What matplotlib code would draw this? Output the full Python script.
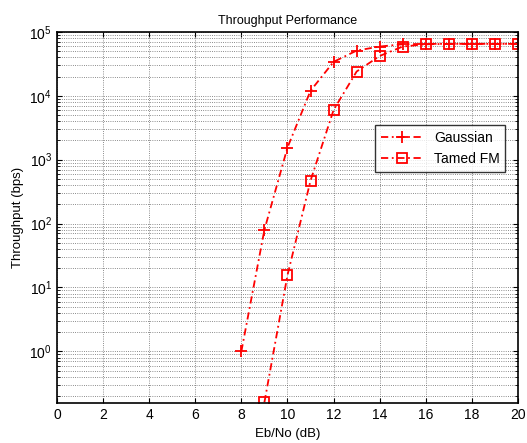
import matplotlib.pyplot as plt

# 数据
ebno = [8, 9, 10, 11, 12, 13, 14, 15, 16, 17, 18, 19, 20]
gaussian = [1.0, 80, 1550, 12000, 34000, 51000, 59000, 64000, 65000, 65000, 65000, 65000, 65000]
ebno_tfm = [9, 10, 11, 12, 13, 14, 15, 16, 17, 18, 19, 20]
tamed_fm = [0.16, 15.6, 470, 6000, 24000, 42000, 59000, 64000, 65000, 65000, 65000, 65000]
xticks = list(range(0, 21, 2))

plt.rcParams['font.family'] = ['Liberation Sans', 'DejaVu Sans']
plt.rcParams['font.size'] = 10

fig = plt.figure(figsize=(5.27, 4.43), dpi=100)
ax = fig.add_axes([0.108, 0.090, 0.875, 0.838])

dash = (4, 2, 1, 2)
ax.semilogy(ebno, gaussian, color='red', linestyle=(0, dash), linewidth=1.3,
            marker='+', markersize=8, markeredgewidth=1.3, label='Gaussian')
ax.semilogy(ebno_tfm, tamed_fm, color='red', linestyle=(0, dash), linewidth=1.3,
            marker='s', markersize=6.5, markerfacecolor='none', markeredgewidth=1.3,
            label='Tamed FM')

ax.set_xlim(0, 20)
ax.set_ylim(0.155, 1e5)
ax.set_xticks(xticks)

ax.grid(True, which='major', linestyle=':', color='#666666', linewidth=0.6)
ax.grid(True, which='minor', linestyle=':', color='#666666', linewidth=0.6)
ax.tick_params(which='both', direction='in', top=True, right=True, labelsize=10)
for s in ax.spines.values():
    s.set_linewidth(1.2)

ax.set_title('Throughput Performance', fontsize=9)
ax.set_xlabel('Eb/No (dB)', fontsize=9.5)
ax.set_ylabel('Throughput (bps)', fontsize=9.5)

leg = ax.legend(loc='upper right', bbox_to_anchor=(0.972, 0.748), fancybox=False,
                edgecolor='black', fontsize=10, handlelength=3, borderaxespad=0)
leg.get_frame().set_linewidth(1.0)

plt.savefig('out.png', dpi=100)
